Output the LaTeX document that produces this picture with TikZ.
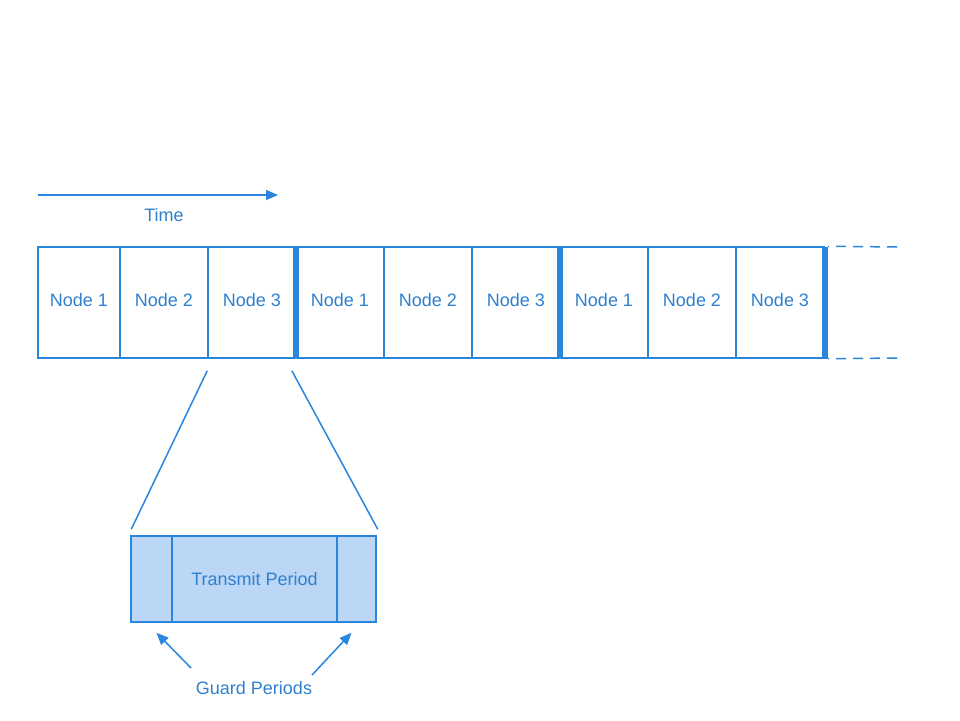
\documentclass[tikz,border=0pt]{standalone}
\usepackage{fontspec}
\setmainfont{Liberation Sans}
\usetikzlibrary{arrows.meta,calc}
\definecolor{lb}{HTML}{2A86DC}
\definecolor{lt}{HTML}{2F80D0}
\definecolor{lf}{HTML}{BBD7F5}
\newcommand{\up}[1]{\raisebox{5pt}{#1}}
\begin{document}
\begin{tikzpicture}[x=1pt,y=-1pt,
  txt/.style={text=lt,font=\fontsize{18}{20}\selectfont},
  cell/.style={draw=lb,line width=1.5pt,minimum height=111pt,inner sep=0pt,txt},
  bar/.style={fill=lb,draw=none,minimum width=6pt,minimum height=112pt,inner sep=0pt},
  gbox/.style={draw=lb,fill=lf,line width=1.5pt,minimum height=86pt,inner sep=0pt,txt},
  conn/.style={draw=lb,line width=1.5pt},
  arr/.style={conn,-{Triangle[length=12pt,width=10pt]}}]
\useasboundingbox (0,0) rectangle (960,720);
% time arrow
\coordinate (t0) at (38,195);
\coordinate (t1) at (278,195);
\draw[arr] (t0) -- (t1);
\node[txt] (time) at (164,215) {Time};
% cells
\node[cell,minimum width=82pt] (a1) at (79,302.5) {\up{Node 1}};
\node[cell,minimum width=88pt] (a2) at (164,302.5) {\up{Node 2}};
\node[cell,minimum width=88pt] (a3) at (252,302.5) {\up{Node 3}};
\node[cell,minimum width=88pt] (b1) at (340,302.5) {\up{Node 1}};
\node[cell,minimum width=88pt] (b2) at (428,302.5) {\up{Node 2}};
\node[cell,minimum width=88pt] (b3) at (516,302.5) {\up{Node 3}};
\node[cell,minimum width=88pt] (c1) at (604,302.5) {\up{Node 1}};
\node[cell,minimum width=88pt] (c2) at (692,302.5) {\up{Node 2}};
\node[cell,minimum width=88pt] (c3) at (780,302.5) {\up{Node 3}};
\node[bar] (g1) at (296,302.5) {};
\node[bar] (g2) at (560,302.5) {};
\node[bar] (g3) at (825,302.5) {};
% dashed continuation
\coordinate (d1) at (900,247);
\coordinate (d2) at (900,358);
\draw[conn,dash pattern=on 10pt off 7pt,dash phase=-8pt] (g3.north east) -- (d1);
\draw[conn,dash pattern=on 10pt off 7pt,dash phase=-8pt] (g3.south east) -- (d2);
% expanded slot
\node[gbox,minimum width=41pt] (gl) at (151.5,579) {};
\node[gbox,minimum width=165pt] (tp) at (254.5,579) {Transmit Period};
\node[gbox,minimum width=39pt] (gr) at (356.5,579) {};
% zoom lines
\draw[conn] ($(a3.south west)+(0,12)$) -- ($(gl.north west)+(1,-6)$);
\draw[conn] ($(g1.south west)+(-1,12)$) -- ($(gr.north east)+(1,-6)$);
% guard label
\node[txt] (gp) at (254,688) {Guard Periods};
\coordinate (ga) at (191,668);
\coordinate (gb) at (312,675);
\draw[arr] (ga) -- ($(gl.south)+(5,10)$);
\draw[arr] (gb) -- ($(gr.south)+(-5,10)$);
\end{tikzpicture}
\end{document}
